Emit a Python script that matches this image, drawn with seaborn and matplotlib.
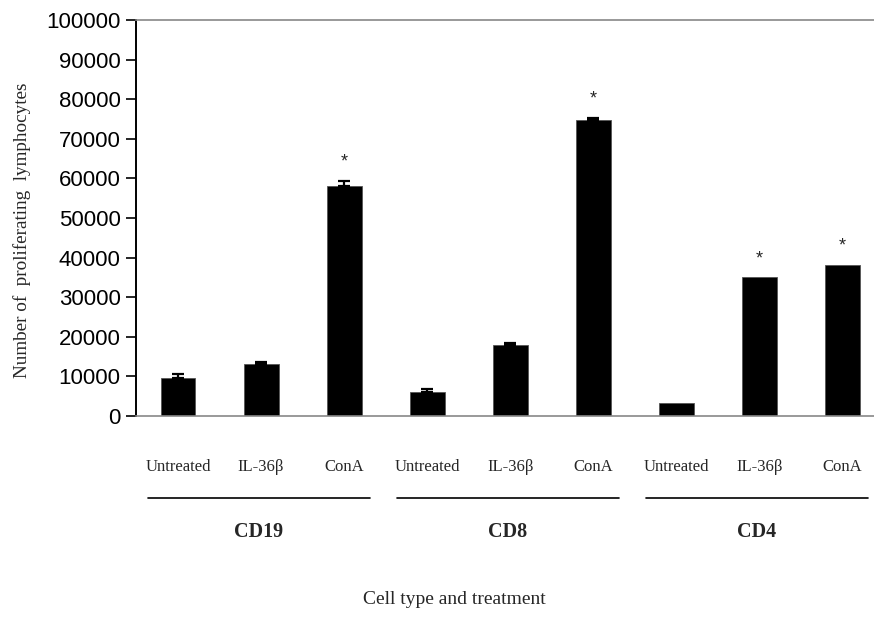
import matplotlib.pyplot as plt
import matplotlib.transforms as mtransforms
import pandas as pd
import seaborn as sns

# Data
groups = ["CD19", "CD8", "CD4"]
treatments = ["Untreated", "IL-36\u03b2", "ConA"]
values = [9700, 13100, 58100, 6100, 17900, 74700, 3200, 35000, 38100]
errors = [1000, 600, 1200, 600, 600, 600, 0, 0, 0]
significant = [False, False, True, False, False, True, False, True, True]
y_ticks = [0, 10000, 20000, 30000, 40000, 50000, 60000, 70000, 80000, 90000, 100000]

df = pd.DataFrame({
    "bar": [g + " " + t for g in groups for t in treatments],
    "treatment": [t for g in groups for t in treatments],
    "value": values,
    "err": errors,
})
df["pos"] = range(len(df))

sns.set_style("white")
plt.rcParams["font.family"] = ["Liberation Serif", "DejaVu Serif"]

fig = plt.figure(figsize=(8.74, 6.21), dpi=100)
ax = fig.add_axes([136 / 874, 205 / 621, 738 / 874, 396 / 621])

sns.barplot(data=df, x="bar", y="value", color="black", width=0.42,
            saturation=1, edgecolor="#555555", linewidth=0.6, ax=ax)

# upper error bars only (bars without a visible error get none)
eb = df[df["err"] > 0]
ax.errorbar(eb["pos"], eb["value"], yerr=[[0] * len(eb), eb["err"]], fmt="none",
            ecolor="black", elinewidth=1.6, capsize=4.5, capthick=1.6)

# significance stars
for i, (v, e, s) in enumerate(zip(values, errors, significant)):
    if s:
        ax.text(i, v + e + 2600, "*", ha="center", va="bottom",
                fontsize=13, family="Liberation Sans")

ax.set_xlim(-0.506, 8.38)
ax.set_ylim(0, 100000)
ax.set_yticks(y_ticks)
ax.set_yticklabels([str(t) for t in y_ticks], family="Liberation Sans", fontsize=16)
ax.tick_params(axis="y", direction="out", length=7, width=1.2, pad=4, left=True, colors="black")
ax.set_xticks(df["pos"])
ax.set_xticklabels(df["treatment"], fontsize=12)
ax.tick_params(axis="x", length=0, pad=31)
ax.set_xlabel("")
ax.set_ylabel("")

ax.spines["left"].set_color("black")
ax.spines["left"].set_linewidth(1.4)
ax.spines["bottom"].set_color("#888888")
ax.spines["bottom"].set_linewidth(1.2)
ax.spines["top"].set_color("#888888")
ax.spines["top"].set_linewidth(1.2)
ax.spines["right"].set_visible(False)

# group lines and group labels under the treatment labels
trans = mtransforms.blended_transform_factory(ax.transData, ax.transAxes)
for gi, g in enumerate(groups):
    start = gi * 3
    ax.plot([start - 0.36, start + 2.31], [-0.207, -0.207], color="black",
            lw=1.2, transform=trans, clip_on=False)
    ax.text(start + 0.97, -0.293, g, transform=trans, ha="center", va="center",
            fontsize=14.5, fontweight="bold")

fig.text(22 / 874, 1 - 230 / 621, "Number of  proliferating  lymphocytes",
         rotation=90, ha="center", va="center", fontsize=13.8)
fig.text(454 / 874, 1 - 600 / 621, "Cell type and treatment",
         ha="center", va="center", fontsize=14)

fig.savefig("out.png", dpi=100)
